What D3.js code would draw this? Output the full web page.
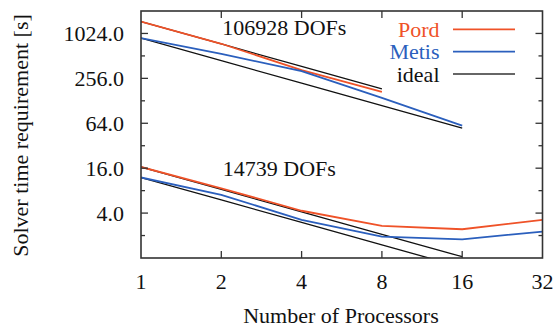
<!DOCTYPE html>
<html>
<head>
<meta charset="utf-8">
<script src="https://cdn.jsdelivr.net/npm/d3@7"></script>
<style>
  html, body { margin: 0; padding: 0; background: #fff; }
  svg { display: block; }
</style>
</head>
<body>
<div id="chart"></div>
<script>
// processor counts on the x axis
const procs = [1, 2, 4, 8, 16, 32];

// 106928 DOFs
const pordLarge = [1480, 745, 330, 169];
const metisLarge = [885, 545, 319, 140, 59.5];
const idealLargePord = [1480, 740, 370, 185];
const idealLargeMetis = [885, 442, 221, 110, 55];

// 14739 DOFs
const pordSmall = [16.6, 8.6, 4.3, 2.69, 2.43, 3.24];
const metisSmall = [12.0, 7.03, 3.24, 1.94, 1.78, 2.26];
const idealSmallPord = [16.6, 8.3, 4.15, 2.08, 1.04];
const idealSmallMetis = [12.0, 6.0, 3.0, 1.5, 0.75];

const yMajor = [4, 16, 64, 256, 1024];
const yMinor = [2, 8, 32, 128, 512];
const xTicks = [1, 2, 4, 8, 16, 32];

const legendItems = [
    { name: "Pord", color: "#ef5228" },
    { name: "Metis", color: "#2b5fbd" },
    { name: "ideal", color: "#333" }
];

const width = 553;
const height = 329;
const marginLeft = 141;
const marginRight = 10.5;
const marginTop = 11;
const marginBottom = 71;
const font = "'Liberation Serif', 'Times New Roman', serif";

const svg = d3.select("#chart")
    .append("svg")
    .attr("width", width)
    .attr("height", height)
    .attr("viewBox", [0, 0, width, height]);

const x = d3.scaleLog().base(2).domain([1, 32]).range([marginLeft, width - marginRight]);
const y = d3.scaleLog().base(2).domain([1, 2048]).range([height - marginBottom, marginTop]);

svg.append("clipPath").attr("id", "plot")
    .append("rect")
    .attr("x", marginLeft).attr("y", marginTop)
    .attr("width", width - marginLeft - marginRight)
    .attr("height", height - marginTop - marginBottom);

const line = d3.line()
    .x((d, i) => x(procs[i]))
    .y(d => y(d));

const series = [
    { data: idealLargePord, color: "#111", w: 1.3 },
    { data: idealLargeMetis, color: "#111", w: 1.3 },
    { data: idealSmallPord, color: "#111", w: 1.3 },
    { data: idealSmallMetis, color: "#111", w: 1.3 },
    { data: pordLarge, color: legendItems[0].color, w: 1.8 },
    { data: metisLarge, color: legendItems[1].color, w: 1.8 },
    { data: pordSmall, color: legendItems[0].color, w: 1.8 },
    { data: metisSmall, color: legendItems[1].color, w: 1.8 }
];

svg.append("g")
    .attr("clip-path", "url(#plot)")
    .selectAll("path")
    .data(series)
    .join("path")
    .attr("d", d => line(d.data))
    .attr("fill", "none")
    .attr("stroke", d => d.color)
    .attr("stroke-width", d => d.w);

// inward ticks on all four sides
const x0 = marginLeft, x1 = width - marginRight;
const y0 = height - marginBottom, y1 = marginTop;
const ticks = svg.append("g").attr("stroke", "#333").attr("stroke-width", 1.3);

[[yMajor, 7], [yMinor, 4]].forEach(([vals, len]) => {
    vals.forEach(v => {
        ticks.append("line").attr("x1", x0).attr("x2", x0 + len).attr("y1", y(v)).attr("y2", y(v));
        ticks.append("line").attr("x1", x1).attr("x2", x1 - len).attr("y1", y(v)).attr("y2", y(v));
    });
});
xTicks.slice(1, -1).forEach(v => {
    ticks.append("line").attr("x1", x(v)).attr("x2", x(v)).attr("y1", y0).attr("y2", y0 - 7);
    ticks.append("line").attr("x1", x(v)).attr("x2", x(v)).attr("y1", y1).attr("y2", y1 + 7);
});

svg.append("rect")
    .attr("x", x0).attr("y", y1)
    .attr("width", x1 - x0).attr("height", y0 - y1)
    .attr("fill", "none")
    .attr("stroke", "#333")
    .attr("stroke-width", 1.6);

const text = svg.append("g")
    .attr("font-family", font)
    .attr("font-size", 22)
    .attr("fill", "#111");

text.selectAll(".ylab")
    .data(yMajor)
    .join("text")
    .attr("x", 124)
    .attr("y", d => y(d) + 7.5)
    .attr("text-anchor", "end")
    .text(d => d3.format(".1f")(d));

text.selectAll(".xlab")
    .data(xTicks)
    .join("text")
    .attr("x", d => x(d))
    .attr("y", 289)
    .attr("text-anchor", "middle")
    .text(d => d);

text.append("text")
    .attr("x", 341)
    .attr("y", 323)
    .attr("text-anchor", "middle")
    .text("Number of Processors");

text.append("text")
    .attr("transform", `translate(28,${(y0 + y1) / 2 + 1}) rotate(-90)`)
    .attr("text-anchor", "middle")
    .text("Solver time requirement [s]");

text.append("text")
    .attr("x", x(2) + 1)
    .attr("y", 34.5)
    .text("106928 DOFs");

text.append("text")
    .attr("x", x(2) + 1.5)
    .attr("y", 176)
    .text("14739 DOFs");

// legend
const legend = svg.append("g");
legendItems.forEach((d, i) => {
    const ly = 29.3 + i * 22.4;
    legend.append("text")
        .attr("x", 439.5)
        .attr("y", ly + 7.5)
        .attr("text-anchor", "end")
        .attr("font-family", font)
        .attr("font-size", 22)
        .attr("fill", i === 2 ? "#111" : d.color)
        .text(d.name);
    legend.append("line")
        .attr("x1", 453).attr("x2", 515)
        .attr("y1", ly).attr("y2", ly)
        .attr("stroke", d.color)
        .attr("stroke-width", i === 2 ? 1.5 : 1.8);
});
</script>
</body>
</html>
